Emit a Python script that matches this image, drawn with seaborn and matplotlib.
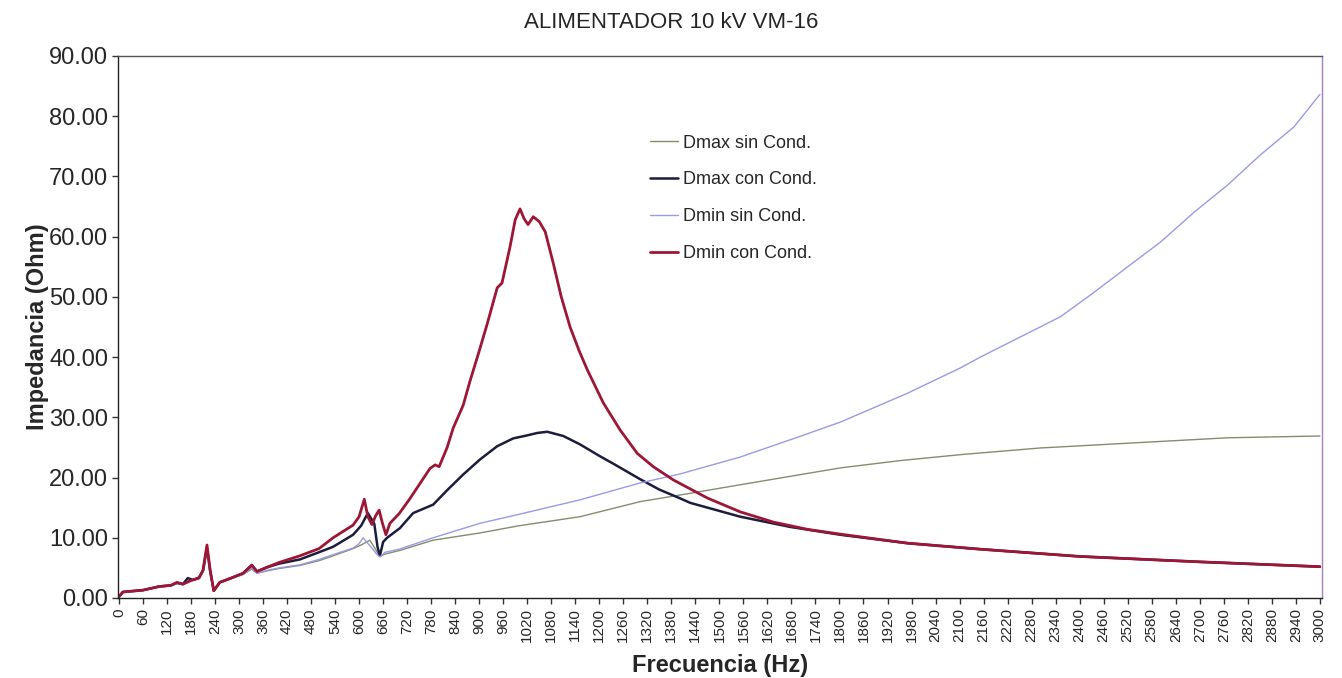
import numpy as np
import pandas as pd
import matplotlib
matplotlib.use("Agg")
import matplotlib.pyplot as plt
import seaborn as sns

# Dmax sin Cond.
f_dmax_sin = [0, 10, 60, 100, 130, 145, 160, 180, 200, 210, 220, 228, 237, 252, 280, 310, 332, 345,
              370, 400, 452, 500, 535, 585, 605, 627, 640, 652, 665, 702, 785, 902, 1000, 1152, 1302,
              1402, 1552, 1802, 1950, 2102, 2300, 2520, 2770, 3000]
z_dmax_sin = [0.2, 1.0, 1.3, 1.8, 2.1, 2.4, 2.3, 2.9, 3.3, 4.4, 8.2, 4.4, 1.3, 2.5, 3.2, 3.9, 4.8, 4.1,
              4.5, 4.9, 5.4, 6.2, 7.0, 8.2, 8.8, 9.6, 8.2, 6.9, 7.3, 7.9, 9.6, 10.8, 12.0, 13.5, 16.0,
              17.1, 18.8, 21.6, 22.8, 23.8, 24.9, 25.7, 26.6, 26.9]

# Dmax con Cond.
f_dmax_con = [0, 10, 60, 100, 130, 145, 160, 172, 185, 200, 210, 220, 228, 237, 252, 280, 310, 332, 345,
              370, 400, 452, 500, 535, 585, 605, 622, 638, 646, 652, 660, 670, 702, 735, 785, 820, 860,
              902, 945, 985, 1020, 1045, 1070, 1110, 1152, 1200, 1235, 1300, 1350, 1400, 1427, 1552,
              1677, 1802, 1970, 2152, 2400, 2700, 3000]
z_dmax_con = [0.2, 1.0, 1.3, 1.9, 2.1, 2.5, 2.3, 3.3, 3.0, 3.4, 4.5, 8.3, 4.5, 1.2, 2.6, 3.3, 4.1, 5.5, 4.4,
              5.1, 5.7, 6.4, 7.6, 8.5, 10.5, 12.0, 14.1, 12.3, 8.5, 7.0, 9.3, 10.0, 11.6, 14.1, 15.5, 17.9, 20.5,
              23.0, 25.2, 26.5, 27.0, 27.4, 27.6, 26.9, 25.5, 23.6, 22.3, 19.8, 18.0, 16.6, 15.8, 13.5,
              11.8, 10.5, 9.1, 8.1, 6.9, 6.0, 5.2]

# Dmin sin Cond.
f_dmin_sin = [0, 10, 60, 100, 130, 145, 160, 180, 200, 210, 220, 228, 237, 252, 280, 310, 332, 345,
              370, 400, 452, 500, 535, 585, 600, 610, 620, 632, 645, 652, 665, 700, 785, 902, 1000,
              1152, 1302, 1402, 1552, 1700, 1802, 1970, 2102, 2152, 2352, 2435, 2520, 2602, 2685,
              2770, 2852, 2935, 3000]
z_dmin_sin = [0.2, 1.0, 1.3, 1.8, 2.1, 2.4, 2.3, 2.9, 3.3, 4.4, 8.2, 4.4, 1.3, 2.5, 3.2, 3.9, 4.9, 4.1,
              4.6, 5.0, 5.5, 6.4, 7.2, 8.3, 9.0, 10.0, 9.2, 8.3, 7.2, 6.8, 7.6, 8.1, 10.0, 12.4, 13.9,
              16.3, 19.1, 20.6, 23.4, 26.8, 29.2, 34.0, 38.2, 40.0, 46.7, 50.7, 55.0, 59.1, 64.0,
              68.6, 73.6, 78.2, 83.6]

# Dmin con Cond.
f_dmin_con = [0, 10, 60, 100, 130, 145, 160, 180, 200, 210, 220, 228, 237, 252, 280, 310, 332, 345,
              370, 400, 452, 500, 535, 585, 600, 613, 622, 632, 641, 650, 658, 667, 677, 700, 727, 752,
              777, 790, 800, 820, 835, 860, 877, 900, 920, 945, 957, 977, 990, 1002, 1012, 1022, 1035,
              1050, 1065, 1085, 1105, 1127, 1150, 1170, 1210, 1252, 1295, 1335, 1385, 1470, 1552, 1635,
              1720, 1802, 1970, 2152, 2400, 2700, 3000]
z_dmin_con = [0.2, 1.0, 1.3, 1.9, 2.1, 2.6, 2.3, 2.9, 3.3, 4.6, 8.8, 4.6, 1.2, 2.6, 3.3, 4.1, 5.4, 4.4,
              5.1, 5.9, 7.0, 8.2, 10.0, 12.1, 13.5, 16.4, 13.5, 12.2, 13.6, 14.6, 12.5, 10.5, 12.4, 14.0, 16.5, 19.0,
              21.5, 22.1, 21.8, 25.0, 28.2, 32.0, 36.0, 41.0, 45.5, 51.5, 52.3, 58.3, 62.8, 64.6, 63.0, 62.0, 63.3,
              62.5, 60.8, 55.6, 50.0, 45.0, 41.0, 37.9, 32.4, 27.9, 24.0, 21.8, 19.6, 16.6, 14.3, 12.6,
              11.4, 10.6, 9.1, 8.1, 6.9, 6.0, 5.2]

series = [
    ("Dmax sin Cond.", f_dmax_sin, z_dmax_sin, "#858c6e", 1.0),
    ("Dmax con Cond.", f_dmax_con, z_dmax_con, "#1c1c3c", 1.8),
    ("Dmin sin Cond.", f_dmin_sin, z_dmin_sin, "#9a9ae6", 1.0),
    ("Dmin con Cond.", f_dmin_con, z_dmin_con, "#9e1636", 2.0),
]

sns.set_style("ticks")
plt.rcParams['font.family'] = ['Liberation Sans', 'DejaVu Sans']

fig = plt.figure(figsize=(13.42, 6.78), dpi=100)
ax = fig.add_axes([0.088, 0.118, 0.897, 0.7995])

for name, f, z, col, lw in series:
    df = pd.DataFrame({"Frecuencia": f, "Impedancia": z})
    sns.lineplot(data=df, x="Frecuencia", y="Impedancia", ax=ax, color=col,
                 linewidth=lw, label=name, estimator=None, sort=False)

ax.set_xlim(-2, 3005)
ax.set_ylim(0, 90)
ax.set_xticks(np.arange(0, 3001, 60))
ax.set_xticklabels([str(v) for v in range(0, 3001, 60)], rotation=90, fontsize=11)
ax.set_yticks(np.arange(0, 91, 10))
ax.set_yticklabels(["%.2f" % v for v in range(0, 91, 10)], fontsize=17)
ax.tick_params(axis='both', direction='out', length=4, width=1, color='#333333')
ax.tick_params(axis='y', pad=3)

for s in ['left', 'bottom']:
    ax.spines[s].set_color('#222222')
ax.spines['top'].set_color('#555555')
ax.spines['right'].set_color('#a77fbf')
for s in ax.spines.values():
    s.set_linewidth(1.0)

ax.set_xlabel("Frecuencia (Hz)", fontsize=17, fontweight='bold', labelpad=8)
ax.set_ylabel("Impedancia (Ohm)", fontsize=17, fontweight='bold', labelpad=0)
fig.suptitle("ALIMENTADOR 10 kV VM-16", fontsize=16, y=0.982)

ax.legend(loc='upper left', bbox_to_anchor=(0.428, 0.885), frameon=False, fontsize=13,
          labelspacing=1.1, handlelength=1.6, handletextpad=0.25)

fig.savefig("out.png", dpi=100)
